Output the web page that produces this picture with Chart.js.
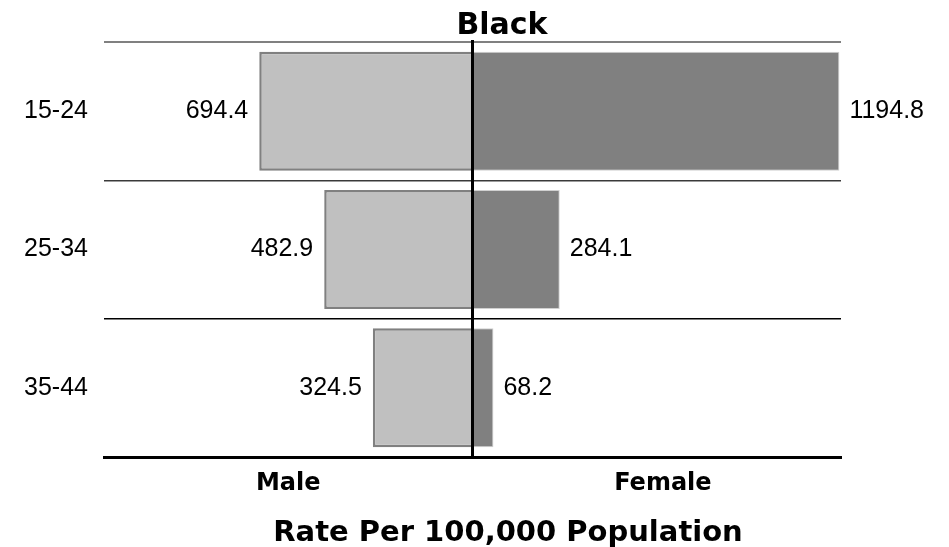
<!DOCTYPE html>
<html>
<head>
<meta charset="utf-8">
<title>Black</title>
<script src="https://cdn.jsdelivr.net/npm/chart.js@4.4.1/dist/chart.umd.min.js"></script>
<style>
  body { margin: 0; background: #fff; }
  #wrap { width: 949px; height: 547px; }
</style>
</head>
<body>
<div id="wrap"><canvas id="myChart" width="949" height="547"></canvas></div>
<script>
var categorias = ['15-24', '25-34', '35-44'];
var male = [694.4, 482.9, 324.5];
var female = [1194.8, 284.1, 68.2];
var xTickValues = [-600, 620];
var xTickLabels = ['Male', 'Female'];

var titulo = 'Black';
var eixoTitulo = 'Rate Per 100,000 Population';

// cores das linhas horizontais (topo, meio, meio)
var gridCores = ['#808080', '#3a3a3a', '#000000', '#000000'];
var gridLarguras = [2, 1.5, 1.5, 0];

const textosPlugin = {
  id: 'textos',
  afterDatasetsDraw(chart) {
    const ctx = chart.ctx;
    const area = chart.chartArea;
    ctx.save();
    ctx.font = '25px "Liberation Sans", Arial, sans-serif';
    ctx.fillStyle = '#000';
    ctx.textBaseline = 'middle';

    chart.getDatasetMeta(0).data.forEach(function (bar, i) {
      ctx.textAlign = 'right';
      ctx.fillText(male[i].toFixed(1), bar.x - 11, bar.y);
    });
    chart.getDatasetMeta(1).data.forEach(function (bar, i) {
      ctx.textAlign = 'left';
      ctx.fillText(female[i].toFixed(1), bar.x + 10, bar.y);
    });

    // linha central
    const x0 = chart.scales.x.getPixelForValue(0);
    ctx.strokeStyle = '#000';
    ctx.lineWidth = 3;
    ctx.beginPath();
    ctx.moveTo(x0, area.top - 2);
    ctx.lineTo(x0, area.bottom);
    ctx.stroke();

    // titulos
    ctx.textAlign = 'center';
    ctx.textBaseline = 'alphabetic';
    ctx.font = 'bold 30px "DejaVu Sans", sans-serif';
    ctx.fillText(titulo, 502, 34);
    ctx.font = 'bold 29px "DejaVu Sans", sans-serif';
    ctx.fillText(eixoTitulo, 508, 541);
    ctx.restore();
  }
};

const ctx = document.getElementById('myChart');

new Chart(ctx, {
  type: 'bar',
  data: {
    labels: categorias,
    datasets: [{
      label: 'Male',
      data: male.map(v => -v),
      backgroundColor: '#c0c0c0',
      borderColor: '#808080',
      borderWidth: 2.5,
      barPercentage: 0.86,
      categoryPercentage: 1
    }, {
      label: 'Female',
      data: female,
      backgroundColor: '#808080',
      borderColor: '#d0d0d0',
      borderWidth: 1,
      barPercentage: 0.86,
      categoryPercentage: 1
    }]
  },
  options: {
    indexAxis: 'y',
    responsive: false,
    animation: false,
    layout: {
      padding: { top: 42, right: 108, left: 0, bottom: 0 }
    },
    plugins: {
      legend: { display: false },
      tooltip: { enabled: false }
    },
    scales: {
      x: {
        stacked: true,
        min: -1200,
        max: 1200,
        afterBuildTicks: function (scale) {
          scale.ticks = xTickValues.map(v => ({ value: v }));
        },
        afterFit: function (scale) {
          scale.height = 90;
        },
        ticks: {
          padding: 12,
          color: '#000',
          font: { family: '"DejaVu Sans", sans-serif', size: 24, weight: 'bold' },
          callback: function (value, index) {
            return xTickLabels[index];
          }
        },
        grid: { display: false, drawTicks: false },
        border: { display: true, color: '#000', width: 3 }
      },
      y: {
        stacked: true,
        afterFit: function (scale) {
          scale.width = 104;
        },
        ticks: {
          padding: 16,
          color: '#000',
          font: { family: '"Liberation Sans", Arial, sans-serif', size: 25 }
        },
        grid: {
          offset: true,
          drawTicks: false,
          color: function (c) { return gridCores[c.index] || '#000'; },
          lineWidth: function (c) { return gridLarguras[c.index] === undefined ? 1 : gridLarguras[c.index]; }
        },
        border: { display: false }
      }
    }
  },
  plugins: [textosPlugin]
});
</script>
</body>
</html>
